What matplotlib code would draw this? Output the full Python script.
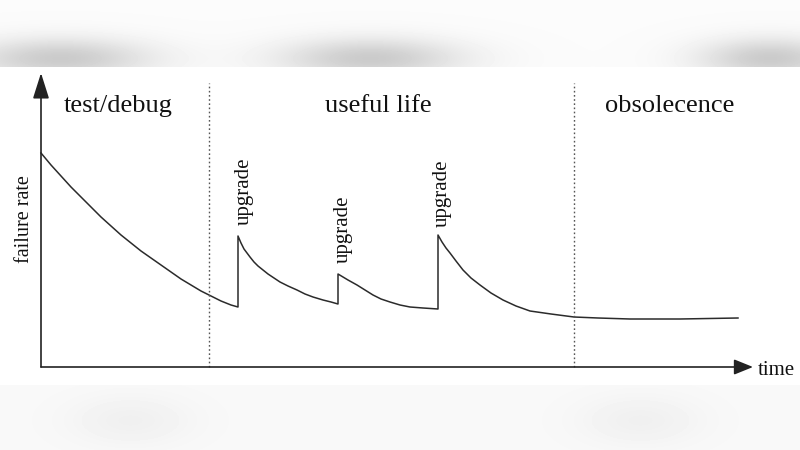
import numpy as np
import matplotlib
matplotlib.use("Agg")
import matplotlib.pyplot as plt
from matplotlib.patches import ArrowStyle

plt.rcParams['font.family'] = ['Liberation Serif', 'DejaVu Serif']

# failure-rate curve (arbitrary units)
# test/debug decay
time_1 = [0, 10, 20, 30, 40, 50, 60, 70, 80, 90, 100, 110, 120, 130, 140,
          150, 160, 170, 180, 190, 197]
rate_1 = [214, 202, 191, 180, 170, 160, 150, 141, 132, 124, 116, 109, 102, 95, 88,
          82, 76, 71, 66, 62, 60]
# after first upgrade
time_2 = [197, 200, 203, 206, 209, 213, 217, 222, 227, 233, 239, 247, 256, 264, 272,
          282, 290, 297]
rate_2 = [131, 124, 118, 114, 110, 105, 101, 97, 93, 89, 85, 81, 77, 73, 70,
          67, 65, 63]
# after second upgrade
time_3 = [297, 302, 307, 316, 324, 332, 340, 349, 359, 369, 382, 397]
rate_3 = [93, 90, 87, 82, 77, 72, 68, 65, 62, 60, 59, 58]
# after third upgrade, then obsolescence
time_4 = [397, 401, 405, 409, 415, 422, 430, 439, 450, 462, 475, 489, 510, 533,
          557, 589, 639, 697]
rate_4 = [132, 125, 119, 114, 106, 97, 89, 82, 74, 67, 61, 56, 53, 50,
          49, 48, 48, 49]

phase_bounds = [168, 533]
phase_names = ["test/debug", "useful life", "obsolecence"]
phase_label_t = [77, 337, 629]
upgrade_t = [203, 302, 401]
upgrade_label_r = [142, 104, 140]

W, H = 800, 450
fig = plt.figure(figsize=(8, 4.5), dpi=100)

# blurred photo-like bands above and below the drawing
bg = fig.add_axes([0, 0, 1, 1], zorder=-5)
yy, xx = np.mgrid[0:H, 0:W]
img = np.ones((H, W))
top = np.zeros((H, W))
for cx, sx in [(60, 90), (370, 90), (770, 70)]:
    top += 0.19 * np.exp(-((xx - cx) / sx) ** 2 - ((yy - 58) / 20) ** 2)
img = np.where(yy < 67, 0.985 - top, img)
bot = np.zeros((H, W))
for cx, sx in [(130, 60), (640, 60)]:
    bot += 0.035 * np.exp(-((xx - cx) / sx) ** 2 - ((yy - 420) / 25) ** 2)
img = np.where(yy > 384, 0.975 - bot, img)
bg.imshow(img, cmap='gray', vmin=0, vmax=1, aspect='auto', interpolation='bilinear')
bg.axis('off')

ax = fig.add_axes([41 / W, (H - 367) / H, 712 / W, 294 / H])
ax.set_xlim(0, 712)
ax.set_ylim(0, 294)
ax.axis('off')

time = time_1 + time_2 + time_3 + time_4
rate = rate_1 + rate_2 + rate_3 + rate_4
ax.plot(time, rate, color='#2b2b2b', lw=1.1, clip_on=False, solid_joinstyle='round')

for b in phase_bounds:
    ax.plot([b, b], [0, 284], color='#555555', lw=1.0, ls=(0, (1.2, 1.8)), clip_on=False)

for name, t in zip(phase_names, phase_label_t):
    ax.text(t, 255, name, fontsize=19, ha='center', va='baseline', color='#111111')

for t, r in zip(upgrade_t, upgrade_label_r):
    ax.text(t, r, "upgrade", fontsize=15, rotation=90, ha='center', va='bottom', color='#111111')

# axis arrows
ax.annotate('', xy=(712, 0), xytext=(0, 0),
            arrowprops=dict(arrowstyle=ArrowStyle('-|>', head_length=0.58, head_width=0.235),
                            mutation_scale=20, lw=1.2, color='#222222',
                            shrinkA=0, shrinkB=0))
ax.annotate('', xy=(0, 294), xytext=(0, 0),
            arrowprops=dict(arrowstyle=ArrowStyle('-|>', head_length=0.79, head_width=0.25),
                            mutation_scale=20, lw=1.2, color='#222222',
                            shrinkA=0, shrinkB=0))

fig.text(24.5 / W, 1 - 219 / H, "failure rate", fontsize=14.5, rotation=90,
         ha='center', va='center', color='#111111')
fig.text(758 / W, 1 - 375 / H, "time", fontsize=15, ha='left', va='baseline', color='#111111')

fig.savefig('out.png', dpi=100)
